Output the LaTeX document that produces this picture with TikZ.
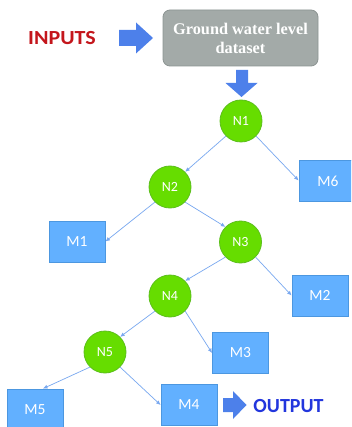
\documentclass[tikz,border=0pt]{standalone}
\usepackage{fontspec}
\setmainfont{Carlito}
\newfontfamily\serifbold{Liberation Serif}
\usetikzlibrary{arrows.meta}
\definecolor{nodegreen}{HTML}{66DD00}
\definecolor{nodegreenb}{HTML}{5CBF1C}
\definecolor{boxblue}{HTML}{62B0FF}
\definecolor{boxblueb}{HTML}{4C97E0}
\definecolor{edgeblue}{HTML}{79A8F0}
\definecolor{bigarrow}{HTML}{4D80EA}
\definecolor{dsgray}{HTML}{A3AAA8}
\definecolor{dsgrayb}{HTML}{8C9492}
\definecolor{inred}{HTML}{C4161C}
\definecolor{outblue}{HTML}{2236DD}
\tikzset{
  dec/.style={circle, fill=nodegreen, draw=nodegreenb, line width=0.8pt, minimum size=42pt, inner sep=0pt, text=white, font=\fontsize{14}{15}\selectfont},
  leaf/.style={rectangle, fill=boxblue, draw=boxblueb, line width=0.8pt, minimum width=56pt, minimum height=41pt, inner sep=0pt, text=white, font=\fontsize{15.5}{16}\selectfont},
  edge/.style={draw=edgeblue, line width=0.7pt, -{Latex[length=4.5pt,width=4pt]}},
  blockarrow/.style={fill=bigarrow}
}
\begin{document}
\begin{tikzpicture}[x=1pt,y=-1pt]
\useasboundingbox (0,0) rectangle (351,427);
\clip (0,0) rectangle (351,427);
\fill[white] (0,0) rectangle (351,427);
% inputs and dataset
\node[text=inred, font=\bfseries\fontsize{20}{22}\selectfont, inner sep=0pt] (inputs) at (62,38.5) {\scalebox{1.1}[1]{INPUTS}};
\node[rectangle, rounded corners=7pt, fill=dsgray, draw=dsgrayb, line width=0.8pt, minimum width=155pt, minimum height=56pt, align=center, text=white, font=\serifbold\bfseries\fontsize{16.3}{19}\selectfont] (data) at (240.5,38) {Ground water level\\dataset};
% right block arrow
\fill[blockarrow] (119,30) -- (136,30) -- (136,22.5) -- (153,38) -- (136,53.5) -- (136,46) -- (119,46) -- cycle;
% down block arrow
\fill[blockarrow] (236,70) -- (248,70) -- (248,83) -- (257.5,83) -- (241.5,97) -- (225.5,83) -- (236,83) -- cycle;
% tree nodes
\node[dec] (N1) at (241,121) {N1};
\node[dec] (N2) at (170,187) {N2};
\node[dec] (N3) at (240.5,242) {N3};
\node[dec] (N4) at (170,296) {N4};
\node[dec] (N5) at (105,352) {N5};
\node[leaf] (M6) at (327,180.5) {};
\node[text=white, font=\fontsize{15.5}{16}\selectfont] (M6t) at (328,181) {M6};
\node[leaf] (M1) at (77,241.5) {M1};
\node[leaf] (M2) at (320,295.5) {M2};
\node[leaf] (M3) at (240.5,353) {M3};
\node[leaf] (M4) at (189,405) {M4};
\node[leaf] (M5) at (35,409.5) {M5};
% output
\fill[blockarrow] (223,398) -- (233,398) -- (233,391) -- (246.5,405) -- (233,419) -- (233,412) -- (223,412) -- cycle;
\node[text=outblue, font=\bfseries\fontsize{20}{22}\selectfont, inner sep=0pt] (output) at (288.5,406) {OUTPUT};
% edges
\draw[edge] (N1.south west) -- (N2.north east);
\draw[edge] (N1.south east) -- (M6.west);
\draw[edge] (N2.south west) -- (M1.east);
\draw[edge] (N2.south east) -- (N3.north west);
\draw[edge] (N3.south west) -- (N4.north east);
\draw[edge] (N3.south east) -- (M2.west);
\draw[edge] (N4.south west) -- (N5.north east);
\draw[edge] (N4.south east) -- (M3.west);
\draw[edge] (N5.south west) -- ([xshift=8pt]M5.north);
\draw[edge] (N5.south east) -- (M4.west);
\end{tikzpicture}
\end{document}
